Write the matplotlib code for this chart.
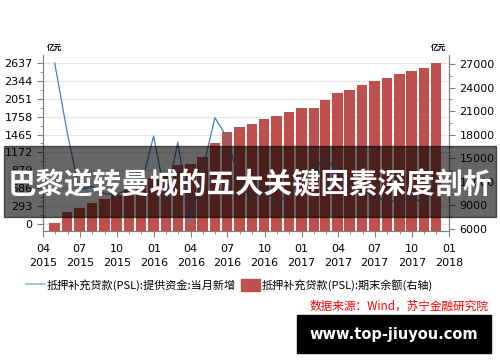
import pandas as pd
import matplotlib
matplotlib.use("Agg")
import matplotlib.pyplot as plt
import matplotlib.dates as mdates
from matplotlib.ticker import AutoMinorLocator, FixedLocator
from matplotlib.patches import Rectangle, Patch
from matplotlib.lines import Line2D

plt.rcParams['font.family'] = ['DejaVu Sans', 'Noto Sans CJK SC']
cjk = ['Noto Sans CJK SC', 'DejaVu Sans']

# month-end dates, Apr 2015 .. Nov 2017
meses = pd.date_range('2015-04-30', periods=32, freq=pd.offsets.MonthEnd())

# PSL 当月新增 (left axis, 亿元)
nuevo = [2637, 1500, 550, 620, 500, 480, 580, 620, 1440, 400, 1340, 40,
         870, 1740, 1420, 700, 370, 600, 330, 500, 690, 880, 1100, 860,
         640, 580, 430, 390, 360, 440, 340, 730]

# PSL 期末余额 (right axis, 亿元)
saldo = [6770, 8170, 8680, 9320, 9830, 10300, 10900, 11500, 12500, 12800,
         14200, 14220, 15100, 16900, 18390, 19030, 19400, 20010, 20340,
         20850, 21410, 21410, 22470, 23330, 23750, 24350, 24900, 25240,
         25790, 26090, 26430, 27160]

ticks_izq = [0, 293, 586, 879, 1172, 1465, 1758, 2051, 2344, 2637]
ticks_der = [6000, 9000, 12000, 15000, 18000, 21000, 24000, 27000]

etiqueta_linea = '抵押补充贷款(PSL):提供资金:当月新增'
etiqueta_barra = '抵押补充贷款(PSL):期末余额(右轴)'
titulo = '巴黎逆转曼城的五大关键因素深度剖析'
fuente = '数据来源：Wind，苏宁金融研究院'
marca = 'www.top-jiuyou.com'

azul = '#4a7ebb'
rojo = '#c0504d'
gris = '#808080'

fig = plt.figure(figsize=(5, 3.62), dpi=100)
ax = fig.add_axes([43/500, 1-231/362, 406/500, 176/362])
ax2 = ax.twinx()

ax.set_ylim(-115, 2768)
ax2.set_ylim(5745, 28146)
ax.set_xlim(pd.Timestamp('2015-04-01'), pd.Timestamp('2018-01-01'))

ax.yaxis.set_major_locator(FixedLocator(ticks_izq))
ax.yaxis.set_minor_locator(AutoMinorLocator(2))
ax2.yaxis.set_major_locator(FixedLocator(ticks_der))
ax2.yaxis.set_minor_locator(AutoMinorLocator(2))
ax.grid(axis='y', color='#e6e6e6', lw=0.8)
ax.set_axisbelow(True)

ax2.bar(meses, saldo, width=26, color=rojo, zorder=2)
# line on top of the bars, but on the left-axis scale
ax2.plot(meses, nuevo, color=azul, lw=0.9, transform=ax.transData, zorder=3)

ax.xaxis.set_major_locator(mdates.MonthLocator(bymonth=[1, 4, 7, 10]))
ax.xaxis.set_minor_locator(mdates.MonthLocator())
ax.xaxis.set_major_formatter(mdates.DateFormatter('%m\n%Y'))

for a in (ax, ax2):
    a.spines['top'].set_visible(False)
    for s in ('left', 'right', 'bottom'):
        a.spines[s].set_color(gris)
    a.tick_params(which='both', colors=gris, labelcolor='black', labelsize=8)
    a.tick_params(which='major', length=4)
    a.tick_params(which='minor', length=2.5)
ax.tick_params(axis='x', pad=5)
for t in ax.get_xticklabels():
    t.set_linespacing(1.5)

fig.text(47/500, 1-47/362, '亿元', fontsize=5.5, family=cjk, weight='bold',
         ha='left', va='center')
fig.text(446/500, 1-47/362, '亿元', fontsize=5.5, family=cjk, weight='bold',
         ha='right', va='center')

handles = [Line2D([], [], color='#9bb7dc', lw=1.2), Patch(color=rojo)]
fig.legend(handles, [etiqueta_linea, etiqueta_barra], loc='center left',
           bbox_to_anchor=(26/500, 1-285/362), ncol=2, frameon=False,
           prop={'family': cjk, 'size': 8}, handlelength=1.7,
           handleheight=1.3, handletextpad=0.2, columnspacing=0.4,
           borderpad=0, borderaxespad=0)

fig.text(488/500, 1-306/362, fuente, color='red', style='italic',
         fontsize=8.4, family=cjk, ha='right', va='center')

# banner overlay
fig.add_artist(Rectangle((4/500, 1-217/362), 492/500, 71/362,
                         transform=fig.transFigure, color='black',
                         alpha=0.6, zorder=5))
fig.text(0.5, 1-185/362, titulo, color='white', fontsize=20.5,
         weight='bold', family=cjk, ha='center', va='center', zorder=6)

# watermark box
fig.add_artist(Rectangle((297/500, 1-353/362), 194/500, 38/362,
                         transform=fig.transFigure, color='black', zorder=5))
fig.text(394/500, 1-334/362, marca, color='white', fontsize=10.5,
         weight='bold', ha='center', va='center', zorder=6)

fig.savefig('out.png', dpi=100)
plt.close(fig)
